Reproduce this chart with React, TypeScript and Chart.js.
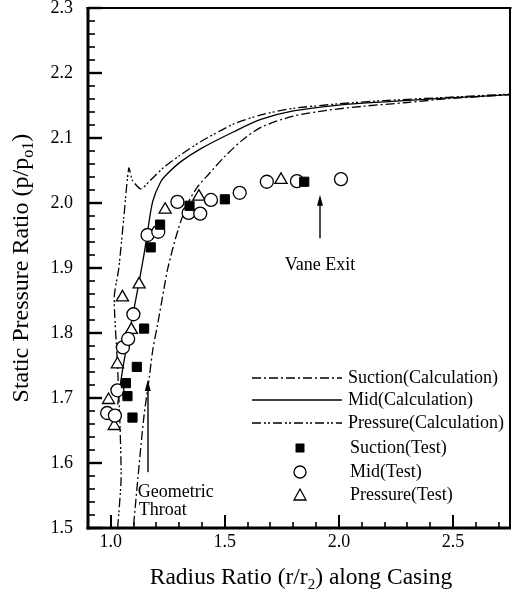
import React, { useEffect, useRef } from 'react';
import { Chart, registerables } from 'chart.js';

Chart.register(...registerables);

// ---------------- data ----------------
const xRange = [0.9, 2.75];
const yRange = [1.5, 2.3];
const xMajorTicks = [1.0, 1.5, 2.0, 2.5];
const xMinorTicks = [1.1, 1.2, 1.3, 1.4, 1.6, 1.7, 1.8, 1.9, 2.1, 2.2, 2.3, 2.4, 2.6, 2.7];
const yMajorTicks = [1.5, 1.6, 1.7, 1.8, 1.9, 2.0, 2.1, 2.2, 2.3];
const yMinorStep = 0.02;

const suctionCalcX = [1.10, 1.118, 1.145, 1.168, 1.184, 1.206, 1.232, 1.25, 1.294, 1.335, 1.38, 1.43, 1.5, 1.58, 1.66, 1.8, 1.95, 2.1, 2.3, 2.48, 2.62, 2.75];
const suctionCalcY = [1.505, 1.574, 1.671, 1.73, 1.774, 1.815, 1.866, 1.90, 1.958, 1.998, 2.025, 2.045, 2.072, 2.098, 2.117, 2.134, 2.143, 2.149, 2.155, 2.161, 2.164, 2.167];

const midCalcX = [1.03, 1.05, 1.07, 1.095, 1.123, 1.145, 1.162, 1.184, 1.219, 1.25, 1.307, 1.395, 1.539, 1.658, 1.8, 2.0, 2.2, 2.48, 2.75];
const midCalcY = [1.69, 1.74, 1.78, 1.825, 1.877, 1.92, 1.958, 2.003, 2.033, 2.046, 2.064, 2.084, 2.11, 2.129, 2.142, 2.151, 2.156, 2.162, 2.167];

const pressureCalcX = [1.03, 1.045, 1.04, 1.028, 1.015, 1.035, 1.057, 1.079, 1.095, 1.132, 1.17, 1.232, 1.3, 1.395, 1.539, 1.658, 1.8, 2.0, 2.2, 2.48, 2.75];
const pressureCalcY = [1.50, 1.575, 1.66, 1.76, 1.855, 1.90, 1.978, 2.054, 2.035, 2.022, 2.034, 2.055, 2.073, 2.095, 2.122, 2.136, 2.146, 2.153, 2.158, 2.163, 2.168];

const suctionTestX = [1.066, 1.073, 1.095, 1.114, 1.146, 1.175, 1.216, 1.345, 1.50, 1.848];
const suctionTestY = [1.723, 1.703, 1.670, 1.748, 1.807, 1.932, 1.967, 1.996, 2.006, 2.033];

const midTestX = [0.984, 1.018, 1.029, 1.053, 1.076, 1.099, 1.161, 1.208, 1.292, 1.341, 1.392, 1.439, 1.565, 1.684, 1.816, 2.009];
const midTestY = [1.677, 1.673, 1.712, 1.778, 1.791, 1.829, 1.951, 1.956, 2.002, 1.985, 1.984, 2.005, 2.016, 2.033, 2.034, 2.037];

const pressureTestX = [0.990, 1.015, 1.029, 1.051, 1.090, 1.124, 1.238, 1.386, 1.746];
const pressureTestY = [1.697, 1.657, 1.752, 1.855, 1.805, 1.875, 1.990, 2.010, 2.036];

const seriesNames = [
  'Suction(Calculation)',
  'Mid(Calculation)',
  'Pressure(Calculation)',
  'Suction(Test)',
  'Mid(Test)',
  'Pressure(Test)',
];

// annotations (data coordinates)
const vaneExitArrow = { x: 1.917, y0: 1.946, y1: 2.013, textY: 1.905 };
const throatArrow = { x: 1.162, y0: 1.586, y1: 1.728, textX: 1.118, textY1: 1.555, textY2: 1.527 };

// ---------------- styles ----------------
const FONT = "'Liberation Serif', 'Times New Roman', serif";
const suctionDash = [9, 3, 2, 3];
const pressureDash = [9, 3, 2, 2, 2, 3];
const legendRowOffsets = [150, 128, 105, 80, 56, 33]; // px above plot bottom

const zip = (xs: number[], ys: number[]) => xs.map((x, i) => ({ x, y: ys[i] }));

function drawRich(ctx: CanvasRenderingContext2D, parts: [string, boolean][], cx: number, cy: number, size: number) {
  const subSize = Math.round(size * 0.65);
  let total = 0;
  for (const [t, sub] of parts) {
    ctx.font = `${sub ? subSize : size}px ${FONT}`;
    total += ctx.measureText(t).width;
  }
  let x = cx - total / 2;
  ctx.textAlign = 'left';
  ctx.textBaseline = 'alphabetic';
  for (const [t, sub] of parts) {
    ctx.font = `${sub ? subSize : size}px ${FONT}`;
    ctx.fillText(t, x, cy + (sub ? size * 0.22 : 0));
    x += ctx.measureText(t).width;
  }
}

function arrow(ctx: CanvasRenderingContext2D, x: number, yTail: number, yTip: number) {
  ctx.fillRect(Math.round(x) - 0.7, yTip + 6, 1.4, yTail - yTip - 6);
  ctx.beginPath();
  ctx.moveTo(x, yTip);
  ctx.lineTo(x - 3, yTip + 11);
  ctx.lineTo(x + 3, yTip + 11);
  ctx.closePath();
  ctx.fill();
}

function marker(ctx: CanvasRenderingContext2D, kind: string, x: number, y: number) {
  ctx.setLineDash([]);
  ctx.lineWidth = 1.3;
  ctx.beginPath();
  if (kind === 'rect') {
    ctx.rect(x - 4.5, y - 4.5, 9, 9);
    ctx.fill();
  } else if (kind === 'circle') {
    ctx.arc(x, y, 6, 0, Math.PI * 2);
    ctx.fillStyle = '#fff';
    ctx.fill();
    ctx.stroke();
    ctx.fillStyle = '#000';
  } else {
    ctx.moveTo(x, y - 6);
    ctx.lineTo(x - 6, y + 5);
    ctx.lineTo(x + 6, y + 5);
    ctx.closePath();
    ctx.stroke();
  }
}

const decorPlugin = {
  id: 'decor',
  afterDraw(chart: any) {
    const { ctx, chartArea: ca, scales } = chart;
    const xs = scales.x;
    const ys = scales.y;
    ctx.save();
    ctx.setLineDash([]);
    ctx.strokeStyle = '#000';
    ctx.fillStyle = '#000';

    const L = Math.round(ca.left);
    const R = Math.round(ca.right);
    const T = Math.round(ca.top);
    const B = Math.round(ca.bottom);

    // frame (filled rectangles)
    ctx.fillRect(L - 1.5, T - 1, R - L + 3, 2); // top
    ctx.fillRect(R - 1, T - 1, 2, B - T + 2); // right
    ctx.fillRect(L - 1.5, T - 1, 3, B - T + 2.5); // left
    ctx.fillRect(L - 1.5, B - 1.5, R - L + 2.5, 3); // bottom

    // inward ticks
    for (const v of xMajorTicks) {
      const px = Math.round(xs.getPixelForValue(v));
      ctx.fillRect(px - 1, B - 13, 2, 13);
    }
    for (const v of xMinorTicks) {
      const px = Math.round(xs.getPixelForValue(v));
      ctx.fillRect(px - 0.8, B - 6, 1.6, 6);
    }
    for (const v of yMajorTicks) {
      const py = Math.round(ys.getPixelForValue(v));
      ctx.fillRect(L, py - 1.2, 14, 2.4);
    }
    const nMinor = Math.round((yRange[1] - yRange[0]) / yMinorStep);
    for (let i = 1; i < nMinor; i++) {
      if (i % 5 === 0) continue;
      const py = Math.round(ys.getPixelForValue(yRange[0] + i * yMinorStep));
      ctx.fillRect(L, py - 0.8, 7, 1.6);
    }

    // annotations
    const vx = xs.getPixelForValue(vaneExitArrow.x);
    arrow(ctx, vx, ys.getPixelForValue(vaneExitArrow.y0), ys.getPixelForValue(vaneExitArrow.y1));
    ctx.font = `18px ${FONT}`;
    ctx.textAlign = 'center';
    ctx.textBaseline = 'middle';
    ctx.fillText('Vane Exit', vx, ys.getPixelForValue(vaneExitArrow.textY));

    const tx = xs.getPixelForValue(throatArrow.x);
    arrow(ctx, tx, ys.getPixelForValue(throatArrow.y0), ys.getPixelForValue(throatArrow.y1));
    ctx.textAlign = 'left';
    ctx.textBaseline = 'middle';
    ctx.font = `18px ${FONT}`;
    ctx.fillText('Geometric', xs.getPixelForValue(throatArrow.textX), ys.getPixelForValue(throatArrow.textY1));
    ctx.fillText('Throat', xs.getPixelForValue(throatArrow.textX) + 1, ys.getPixelForValue(throatArrow.textY2));

    // legend
    const lineX0 = ca.left + 164;
    const lineX1 = ca.left + 254;
    const textX = ca.left + 260;
    const markX = ca.left + 212;
    const kinds = ['dashdot', 'solid', 'dashdotdot', 'rect', 'circle', 'triangle'];
    kinds.forEach((k, i) => {
      const ry = ca.bottom - legendRowOffsets[i];
      if (i < 3) {
        ctx.beginPath();
        ctx.lineWidth = 1.3;
        ctx.setLineDash(k === 'solid' ? [] : k === 'dashdot' ? suctionDash : pressureDash);
        ctx.moveTo(lineX0, ry);
        ctx.lineTo(lineX1, ry);
        ctx.stroke();
        ctx.setLineDash([]);
      } else {
        marker(ctx, k, markX, ry);
      }
      ctx.font = `18px ${FONT}`;
      ctx.textAlign = 'left';
      ctx.textBaseline = 'middle';
      ctx.fillText(seriesNames[i], i < 3 ? textX : textX + 2, ry);
    });

    // axis titles
    const cxMid = (ca.left + ca.right) / 2;
    drawRich(ctx, [['Radius Ratio (r/r', false], ['2', true], [') along Casing', false]], cxMid + 2, ca.bottom + 56, 23.5);
    ctx.save();
    ctx.translate(ca.left - 60, (ca.top + ca.bottom) / 2);
    ctx.rotate(-Math.PI / 2);
    drawRich(ctx, [['Static Pressure Ratio (p/p', false], ['o1', true], [')', false]], 0, 0, 24);
    ctx.restore();

    ctx.restore();
  },
};

export default function App() {
  const ref = useRef<HTMLCanvasElement | null>(null);
  useEffect(() => {
    if (!ref.current) return;
    const lineBase = {
      type: 'line' as const,
      showLine: true,
      pointRadius: 0,
      borderColor: '#000',
      borderWidth: 1.3,
      tension: 0.3,
      fill: false,
    };
    const chart = new Chart(ref.current, {
      type: 'scatter',
      data: {
        datasets: [
          {
            label: seriesNames[3],
            data: zip(suctionTestX, suctionTestY),
            pointStyle: 'rect',
            pointRadius: 6.5,
            backgroundColor: '#000',
            borderColor: '#000',
            borderWidth: 1,
          },
          {
            label: seriesNames[4],
            data: zip(midTestX, midTestY),
            pointStyle: 'circle',
            pointRadius: 6.5,
            backgroundColor: '#fff',
            borderColor: '#000',
            borderWidth: 1.3,
          },
          {
            label: seriesNames[5],
            data: zip(pressureTestX, pressureTestY),
            pointStyle: 'triangle',
            pointRadius: 7,
            backgroundColor: '#fff',
            borderColor: '#000',
            borderWidth: 1.3,
          },
          { ...lineBase, label: seriesNames[0], data: zip(suctionCalcX, suctionCalcY), borderDash: suctionDash },
          { ...lineBase, label: seriesNames[1], data: zip(midCalcX, midCalcY) },
          { ...lineBase, label: seriesNames[2], data: zip(pressureCalcX, pressureCalcY), borderDash: pressureDash, tension: 0.22 },
        ] as any,
      },
      options: {
        animation: false,
        responsive: true,
        maintainAspectRatio: false,
        layout: { padding: { top: 8, right: 9, left: 0, bottom: 0 } },
        plugins: { legend: { display: false }, tooltip: { enabled: false } },
        scales: {
          x: {
            type: 'linear',
            min: xRange[0],
            max: xRange[1],
            grid: { display: false, drawTicks: false },
            border: { display: false },
            ticks: {
              font: { family: FONT, size: 18 },
              color: '#000',
              padding: 3,
              maxRotation: 0,
              autoSkip: false,
              callback: (v: any) => Number(v).toFixed(1),
            },
            afterBuildTicks: (s: any) => {
              s.ticks = xMajorTicks.map((value) => ({ value }));
            },
            afterFit: (s: any) => {
              s.height = 65;
              s.paddingLeft = 0;
              s.paddingRight = 0;
            },
          },
          y: {
            type: 'linear',
            min: yRange[0],
            max: yRange[1],
            grid: { display: false, drawTicks: false },
            border: { display: false },
            ticks: {
              font: { family: FONT, size: 18 },
              color: '#000',
              padding: 15,
              autoSkip: false,
              callback: (v: any) => Number(v).toFixed(1),
            },
            afterBuildTicks: (s: any) => {
              s.ticks = yMajorTicks.map((value) => ({ value }));
            },
            afterFit: (s: any) => {
              s.width = 88;
              s.paddingTop = 0;
              s.paddingBottom = 0;
            },
          },
        },
      } as any,
      plugins: [decorPlugin],
    });
    return () => chart.destroy();
  }, []);

  return (
    <div style={{ position: 'fixed', left: 0, top: 0, width: 519, height: 593, background: '#fff' }}>
      <canvas ref={ref} />
    </div>
  );
}
